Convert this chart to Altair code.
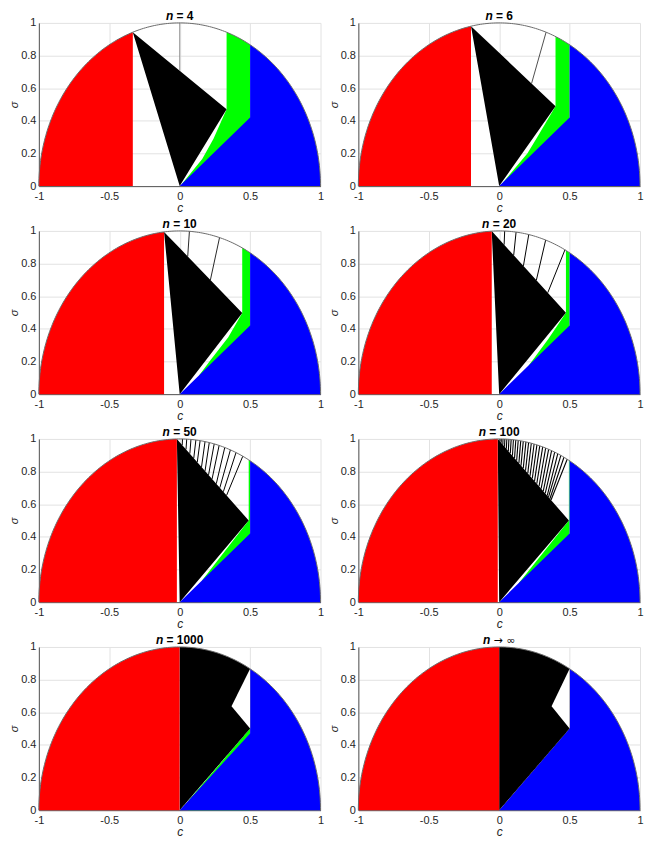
import numpy as np
import pandas as pd
import altair as alt

# ---------------- values ----------------
n_labels = ["4", "6", "10", "20", "50", "100", "1000", "∞"]
# right edge of the red region (c value)
red_edge = [-0.333, -0.2, -0.111, -0.053, -0.020, -0.010, -0.001, 0.0]
# top vertex of the black triangle (on the circle)
black_top_x = [-0.333, -0.2, -0.111, -0.053, -0.020, -0.010, -0.001, 0.0]
black_top_y = [0.943, 0.980, 0.994, 0.999, 1.0, 1.0, 1.0, 1.0]
# right vertex of the black triangle
black_vx = [0.333, 0.400, 0.444, 0.474, 0.490, 0.495, 0.4995, 0.5]
black_vy = [0.471, 0.490, 0.497, 0.499, 0.500, 0.500, 0.500, 0.500]
# blue region corner height at c = 0.5
blue_corner = [0.42, 0.42, 0.42, 0.42, 0.42, 0.42, 0.47, 0.50]
# left boundary of green region (tip on blue line -> black vertex)
green_x = [
    [0.02, 0.16, 0.24, 0.333],
    [0.03, 0.20, 0.27, 0.400],
    [0.14, 0.218, 0.345, 0.444],
    [0.21, 0.35, 0.474],
    [0.16, 0.490],
    [0.14, 0.495],
    [0.06, 0.4995],
    [],
]
green_y = [
    [0.017, 0.166, 0.29, 0.471],
    [0.025, 0.20, 0.30, 0.490],
    [0.118, 0.207, 0.349, 0.497],
    [0.176, 0.34, 0.499],
    [0.134, 0.500],
    [0.118, 0.500],
    [0.056, 0.500],
    [],
]
green_strip = [True, True, True, True, True, True, False, False]
# fan lines: x on the circle -> x on the black triangle edge
fan_top = [
    [0.0],
    [0.333],
    [0.069, 0.283],
    [0.039, 0.12, 0.21, 0.33, 0.467],
    [0.02, 0.05, 0.08, 0.115, 0.145, 0.18, 0.21, 0.245, 0.28, 0.32, 0.36, 0.40, 0.448],
    [0.005, 0.015, 0.027, 0.04, 0.054, 0.069, 0.085, 0.101, 0.118, 0.135, 0.153, 0.171,
     0.19, 0.209, 0.228, 0.248, 0.268, 0.288, 0.309, 0.33, 0.351, 0.372, 0.394, 0.416,
     0.438, 0.46, 0.483],
    [],
    [],
]
fan_bot = [
    [0.0],
    [0.23],
    [0.057, 0.218],
    [0.035, 0.103, 0.172, 0.264, 0.345],
    [0.018, 0.045, 0.072, 0.10, 0.125, 0.155, 0.18, 0.205, 0.23, 0.26, 0.285, 0.31, 0.333],
    [0.005, 0.014, 0.026, 0.038, 0.051, 0.065, 0.079, 0.094, 0.109, 0.124, 0.14, 0.155,
     0.171, 0.187, 0.203, 0.219, 0.235, 0.251, 0.267, 0.283, 0.298, 0.313, 0.327, 0.341,
     0.35, 0.36, 0.368],
    [],
    [],
]
fan_width = [0.8, 0.8, 0.9, 1.0, 1.0, 1.1, 1.0, 1.0]
fan_color = ["#7a7a7a", "#222222", "#111111", "#000000", "#000000", "#000000", "#000000", "#000000"]
dense = [False, False, False, False, False, False, True, True]
notch_x = [None, None, None, None, None, None, 0.368, 0.372]
notch_y = [None, None, None, None, None, None, 0.636, 0.636]

x_ticks = [-1, -0.5, 0, 0.5, 1]
y_ticks = [0, 0.2, 0.4, 0.6, 0.8, 1]

W, H = 283, 164
FONT = "Liberation Sans"


def arc(x0, x1, k=120):
    t = np.linspace(np.arccos(x0), np.arccos(x1), k)
    return np.cos(t), np.sin(t)


def circ(x):
    return float(np.sqrt(max(0.0, 1 - x * x)))


xs = alt.Scale(domain=[-1, 1], nice=False, zero=False)
ys = alt.Scale(domain=[0, 1], nice=False, zero=False)
xa = alt.Axis(values=x_ticks, labelExpr="'' + datum.value", title="c",
              titleFontStyle="italic", titleFontWeight="normal", labelPadding=4,
              titlePadding=1, labelFlush=False, grid=True)
ya = alt.Axis(values=y_ticks, labelExpr="'' + datum.value", title="σ",
              titleFontStyle="italic", titleFontWeight="normal", titleFontSize=11,
              labelPadding=3, titlePadding=1, labelFlush=False, grid=True)


def X(f="x"):
    return alt.X(f"{f}:Q", scale=xs, axis=xa, title="c")


def Y(f="y"):
    return alt.Y(f"{f}:Q", scale=ys, axis=ya, title="σ")


def area(df, color):
    return alt.Chart(df).mark_area(color=color, opacity=1, strokeWidth=0).encode(
        x=X(), y=Y(), y2=alt.Y2("y2:Q"))


def panel(i):
    layers = []
    # green
    if green_x[i]:
        gx = list(green_x[i])
        gy = list(green_y[i])
        if green_strip[i]:
            vx = black_vx[i]
            ax, ay = arc(vx, 0.5, 20)
            gx += [vx + 1e-6] + list(ax[1:])
            gy += [circ(vx)] + list(ay[1:])
        else:
            gx += [0.5]
            gy += [blue_corner[i]]
        gdf = pd.DataFrame({"x": gx, "y": gy, "y2": 0.0})
        layers.append(area(gdf, "#00ff00"))
    # blue
    ax, ay = arc(0.5, 1.0, 80)
    bdf = pd.DataFrame({"x": [0.0, 0.5, 0.500001] + list(ax[1:]),
                        "y": [0.0, blue_corner[i], circ(0.5)] + list(ay[1:]),
                        "y2": 0.0})
    layers.append(area(bdf, "#0000ff"))
    # black
    xA, yA = black_top_x[i], black_top_y[i]
    xB, yB = black_vx[i], black_vy[i]
    if not dense[i]:
        y0 = yA + (yB - yA) * (0 - xA) / (xB - xA)
        kdf = pd.DataFrame({"x": [xA, 0.0, xB], "y": [yA, y0, yB], "y2": [yA, 0.0, yB]})
    else:
        ax, ay = arc(0.0, 0.5, 60)
        kx = ([xA] if xA < 0 else []) + list(ax)
        ky = ([yA] if xA < 0 else []) + list(ay)
        ky2 = ([yA] if xA < 0 else []) + list(yB / xB * ax)
        kdf = pd.DataFrame({"x": kx, "y": ky, "y2": ky2})
    layers.append(area(kdf, "#000000"))
    # fans
    if fan_top[i]:
        rows = []
        for t, b in zip(fan_top[i], fan_bot[i]):
            yb = yA + (yB - yA) * (b - xA) / (xB - xA)
            rows.append({"x": t, "y": circ(t), "x2": b, "y2": yb})
        fdf = pd.DataFrame(rows)
        layers.append(alt.Chart(fdf).mark_rule(color=fan_color[i], strokeWidth=fan_width[i]).encode(
            x=X(), y=Y(), x2=alt.X2("x2:Q"), y2=alt.Y2("y2:Q")))
    # notch
    if notch_x[i] is not None:
        ndf = pd.DataFrame({"x": [notch_x[i], 0.5], "y": [notch_y[i], circ(0.5)],
                            "y2": [notch_y[i], yB]})
        layers.append(area(ndf, "#ffffff"))
    # red
    ax, ay = arc(-1.0, red_edge[i], 120)
    rdf = pd.DataFrame({"x": ax, "y": ay, "y2": 0.0})
    layers.append(area(rdf, "#ff0000"))
    # outline
    ax, ay = arc(-1.0, 1.0, 200)
    odf = pd.DataFrame({"x": ax, "y": ay})
    layers.append(alt.Chart(odf).mark_line(color="#6b6b6b", strokeWidth=1).encode(
        x=X(), y=Y()))
    # title
    lab = n_labels[i]
    if lab == "∞":
        rest = "→ ∞"
        rw = 11 * 0.838 * 2 + 3.5
        weight = "normal"
        rfont = "DejaVu Sans"
        rsize = 11
    else:
        rest = "= " + lab
        rw = 7.0 + 3.3 + 6.7 * len(lab)
        weight = "bold"
        rfont = FONT
        rsize = 12
    nw = 7.3
    total = nw + 3.3 + rw
    x_n = W / 2 - total / 2
    tdf = pd.DataFrame({"a": [0]})
    layers.append(alt.Chart(tdf).mark_text(
        text="n", font=FONT, fontSize=12, fontWeight="bold", fontStyle="italic",
        align="left", baseline="alphabetic", color="#000000").encode(
        x=alt.value(x_n), y=alt.value(-3)))
    layers.append(alt.Chart(tdf).mark_text(
        text=rest, font=rfont, fontSize=rsize, fontWeight=weight,
        align="left", baseline="alphabetic", color="#000000").encode(
        x=alt.value(x_n + nw + 3.3), y=alt.value(-3)))
    return alt.layer(*layers).properties(width=W, height=H)


rows = [alt.hconcat(panel(2 * r), panel(2 * r + 1), spacing=3) for r in range(4)]
chart = alt.vconcat(*rows, spacing=5).properties(padding=0).configure_axis(
    labelFont=FONT, labelFontSize=11, labelColor="#262626",
    titleFont=FONT, titleFontSize=12, titleColor="#262626",
    gridColor="#e2e2e2", gridWidth=1, domainColor="#555555", domainWidth=1,
    ticks=False,
).configure_view(stroke=None)

chart.save("out.html", embed_options={"renderer": "svg", "actions": False})
